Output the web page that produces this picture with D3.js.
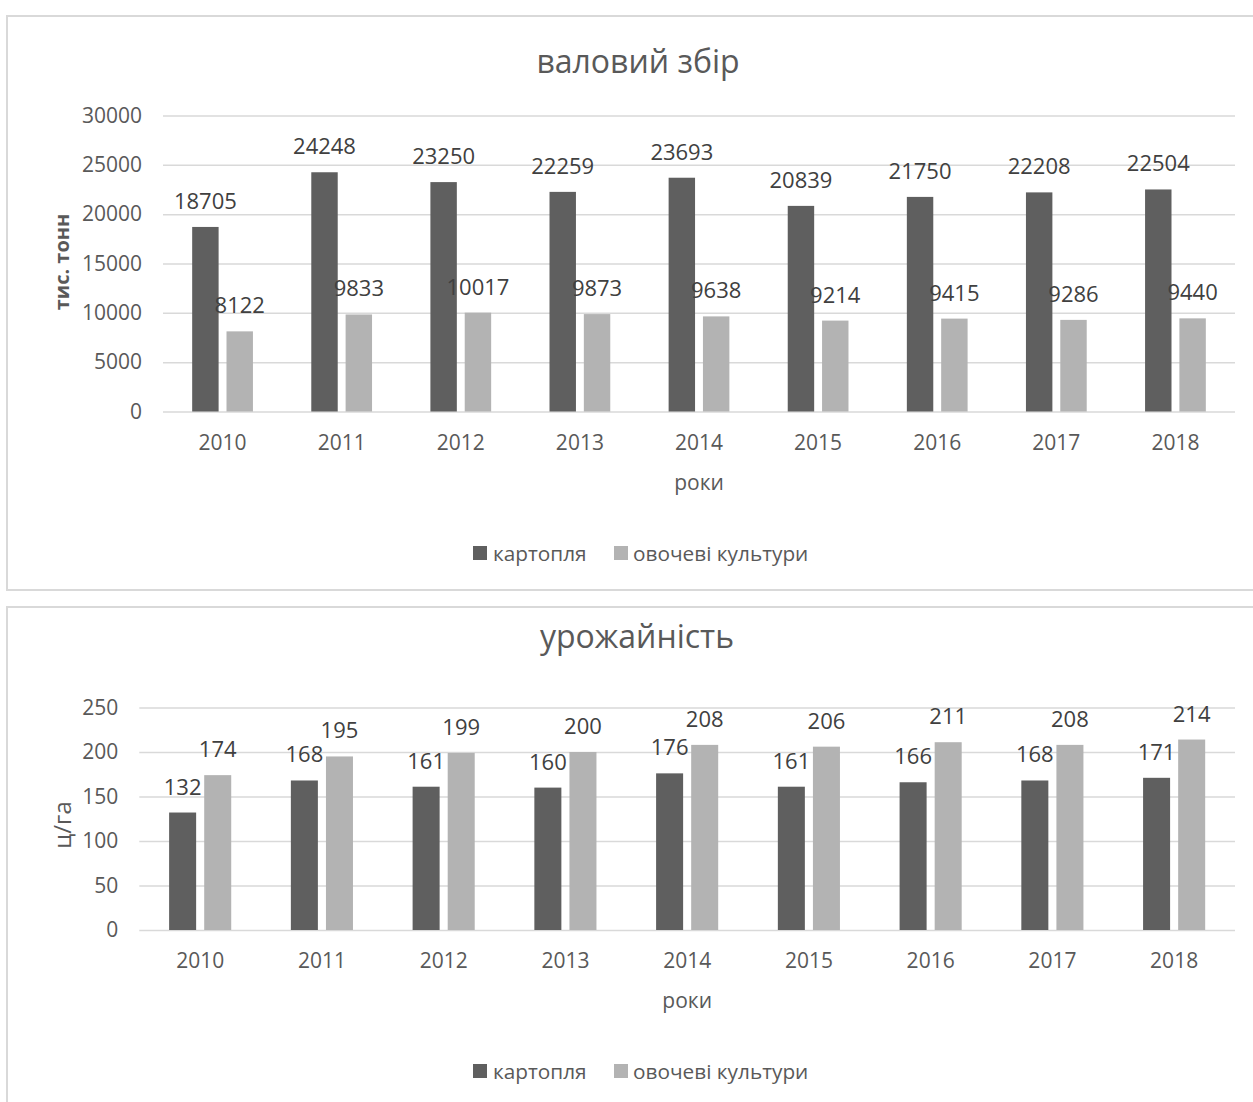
<!DOCTYPE html>
<html>
<head>
<meta charset="utf-8">
<script src="https://cdn.jsdelivr.net/npm/d3@7"></script>
<style>
  body { margin: 0; background: #fff; }
  svg { display: block; font-family: "Open Sans", sans-serif; }
</style>
</head>
<body>
<div id="chart"></div>
<script>
// data
const years = ["2010", "2011", "2012", "2013", "2014", "2015", "2016", "2017", "2018"];
const seriesNames = ["картопля", "овочеві культури"];

// валовий збір, тис. тонн
const grossPotato = [18705, 24248, 23250, 22259, 23693, 20839, 21750, 22208, 22504];
const grossVeg = [8122, 9833, 10017, 9873, 9638, 9214, 9415, 9286, 9440];

// урожайність, ц/га
const yieldPotato = [132, 168, 161, 160, 176, 161, 166, 168, 171];
const yieldVeg = [174, 195, 199, 200, 208, 206, 211, 208, 214];

const width = 1253;
const height = 1102;
const colors = ["#5f5f5f", "#b3b3b3"];
const textColor = "#595959";
const gridColor = "#d9d9d9";

const svg = d3
  .select("#chart")
  .append("svg")
  .attr("width", width)
  .attr("height", height);

// one excel-like clustered column chart
function drawChart(opt) {
  const g = svg.append("g");

  // frame of the chart area
  g.append("rect")
    .attr("x", opt.box[0])
    .attr("y", opt.box[1])
    .attr("width", opt.box[2])
    .attr("height", opt.box[3])
    .attr("fill", "#fff")
    .attr("stroke", gridColor)
    .attr("stroke-width", 2);

  const x = d3.scaleBand().domain(years).range([opt.left, opt.right]);
  const xs = d3
    .scaleBand()
    .domain(seriesNames)
    .range([0, x.bandwidth()])
    .paddingInner(0.23)
    .paddingOuter(0.85);
  const y = d3.scaleLinear().domain(opt.domain).range([opt.bottom, opt.top]);

  // y axis: gridlines + labels, no domain line
  const yAxis = g
    .append("g")
    .attr("transform", `translate(${opt.left},0)`)
    .call(
      d3.axisLeft(y)
        .tickValues(d3.range(opt.domain[0], opt.domain[1] + 1, opt.step))
        .tickSize(-(opt.right - opt.left))
        .tickPadding(21)
        .tickFormat(d3.format("d"))
    );
  yAxis.select(".domain").remove();
  yAxis.selectAll("line").attr("stroke", gridColor).attr("stroke-width", 1.5);
  yAxis.selectAll("text")
    .attr("fill", textColor)
    .attr("font-size", 21)
    .attr("font-family", "Open Sans, sans-serif");

  // x axis labels only
  const xAxis = g
    .append("g")
    .attr("transform", `translate(0,${opt.bottom})`)
    .call(d3.axisBottom(x).tickSize(0).tickPadding(0));
  xAxis.select(".domain").remove();
  xAxis.selectAll("text")
    .attr("fill", textColor)
    .attr("font-size", 21)
    .attr("font-family", "Open Sans, sans-serif")
    .attr("dy", null)
    .attr("y", opt.tickBase - opt.bottom);

  const rows = years.map((yr, i) => ({
    year: yr,
    vals: seriesNames.map((s, k) => ({ name: s, k: k, value: opt.values[k][i] })),
  }));

  const groups = g
    .append("g")
    .selectAll("g")
    .data(rows)
    .join("g")
    .attr("transform", (d) => `translate(${x(d.year)},0)`);

  groups
    .selectAll("rect")
    .data((d) => d.vals)
    .join("rect")
    .attr("x", (d) => xs(d.name))
    .attr("y", (d) => y(d.value))
    .attr("width", xs.bandwidth())
    .attr("height", (d) => y(0) - y(d.value))
    .attr("fill", (d) => colors[d.k]);

  // data labels, outside end
  groups
    .selectAll("text")
    .data((d) => d.vals)
    .join("text")
    .attr("x", (d) => xs(d.name) + xs.bandwidth() / 2)
    .attr("y", (d) => y(d.value) - 18)
    .attr("text-anchor", "middle")
    .attr("fill", "#404040")
    .attr("font-size", 22)
    .text((d) => d.value);

  // title
  g.append("text")
    .attr("x", opt.titlePos[0])
    .attr("y", opt.titlePos[1])
    .attr("text-anchor", "middle")
    .attr("fill", textColor)
    .attr("font-size", 32)
    .text(opt.title);

  // axis titles
  g.append("text")
    .attr("transform", `translate(${opt.yTitlePos[0]},${opt.yTitlePos[1]}) rotate(-90)`)
    .attr("text-anchor", "middle")
    .attr("dominant-baseline", "central")
    .attr("fill", textColor)
    .attr("font-size", opt.yTitleSize)
    .attr("font-weight", opt.yTitleBold ? "bold" : "normal")
    .text(opt.yTitle);

  g.append("text")
    .attr("x", (opt.left + opt.right) / 2)
    .attr("y", opt.tickBase + 40)
    .attr("text-anchor", "middle")
    .attr("fill", textColor)
    .attr("font-size", 21)
    .text("роки");

  // legend
  const legendY = opt.tickBase + 103;
  const items = [
    { name: seriesNames[0], x: 473, tx: 493 },
    { name: seriesNames[1], x: 614, tx: 633 },
  ];
  const leg = g.append("g").selectAll("g").data(items).join("g");
  leg.append("rect")
    .attr("x", (d) => d.x)
    .attr("y", legendY - 7)
    .attr("width", 14)
    .attr("height", 14)
    .attr("fill", (d, i) => colors[i]);
  leg.append("text")
    .attr("x", (d) => d.tx)
    .attr("y", legendY)
    .attr("dominant-baseline", "central")
    .attr("fill", textColor)
    .attr("font-size", 20.8)
    .text((d) => d.name);
}

drawChart({
  box: [7, 16, 1260, 574],
  left: 163,
  right: 1235,
  top: 115.5,
  bottom: 411.5,
  domain: [0, 30000],
  step: 5000,
  values: [grossPotato, grossVeg],
  tickBase: 450,
  title: "валовий збір",
  titlePos: [638, 73],
  yTitle: "тис. тонн",
  yTitleBold: true,
  yTitleSize: 20,
  yTitlePos: [61, 262],
});

drawChart({
  box: [7, 607, 1260, 520],
  left: 139.3,
  right: 1235,
  top: 707.5,
  bottom: 930,
  domain: [0, 250],
  step: 50,
  values: [yieldPotato, yieldVeg],
  tickBase: 968,
  title: "урожайність",
  titlePos: [637, 648],
  yTitle: "ц/га",
  yTitleBold: false,
  yTitleSize: 24,
  yTitlePos: [61, 825],
});
</script>
</body>
</html>
